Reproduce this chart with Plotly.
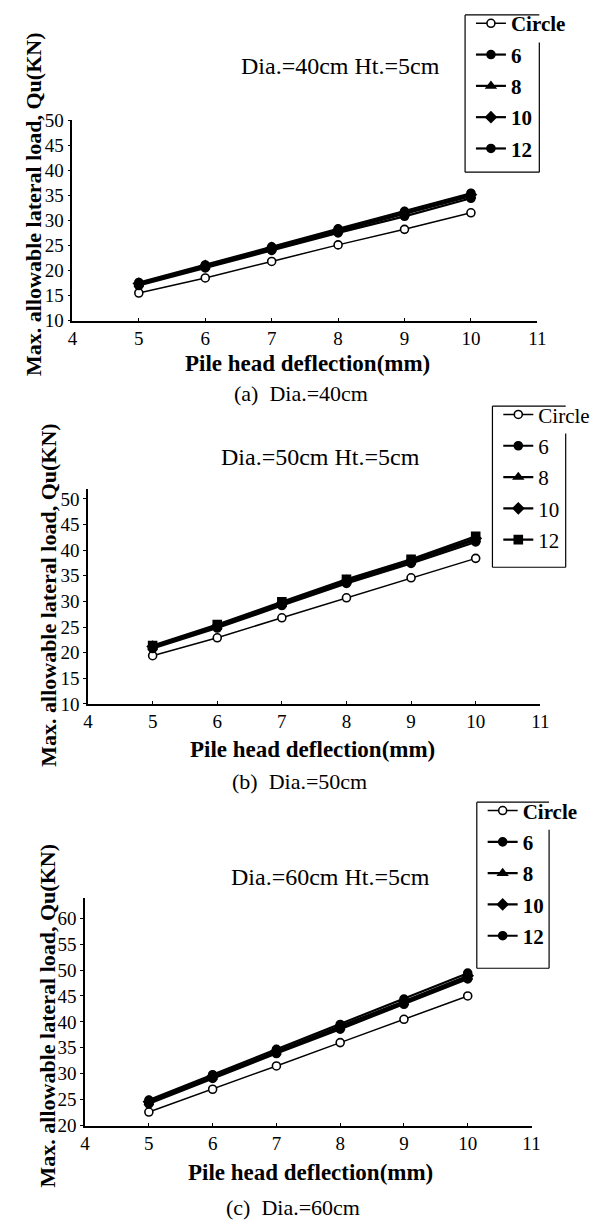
import plotly.graph_objects as go

# ---------------- data ----------------
deflection = [5, 6, 7, 8, 9, 10]
series_names = ["Circle", "6", "8", "10", "12"]
x_ticks = [4, 5, 6, 7, 8, 9, 10, 11]

# (a) Dia. = 40 cm
a_circle = [15.5, 18.5, 21.8, 25.1, 28.2, 31.5]
a_6 = [17.0, 20.5, 24.0, 27.5, 30.8, 34.4]
a_8 = [17.2, 20.7, 24.3, 27.8, 31.2, 34.8]
a_10 = [17.4, 20.9, 24.5, 28.0, 31.5, 35.1]
a_12 = [17.6, 21.1, 24.7, 28.3, 31.8, 35.4]

# (b) Dia. = 50 cm
b_circle = [19.4, 22.9, 26.8, 30.7, 34.6, 38.4]
b_6 = [20.8, 24.8, 29.2, 33.5, 37.4, 41.6]
b_8 = [21.0, 25.0, 29.4, 33.8, 37.7, 42.0]
b_10 = [21.2, 25.2, 29.6, 34.0, 37.9, 42.3]
b_12 = [21.4, 25.5, 29.9, 34.3, 38.2, 42.7]

# (c) Dia. = 60 cm
c_circle = [22.6, 27.0, 31.5, 36.0, 40.5, 45.0]
c_6 = [24.2, 29.1, 33.9, 38.6, 43.4, 48.3]
c_8 = [24.4, 29.3, 34.1, 38.9, 43.7, 48.6]
c_10 = [24.6, 29.5, 34.4, 39.2, 44.0, 48.9]
c_12 = [24.9, 29.8, 34.7, 39.5, 44.4, 49.4]

panel_titles = ["Dia.=40cm Ht.=5cm", "Dia.=50cm Ht.=5cm", "Dia.=60cm Ht.=5cm"]
panel_captions = ["(a)\u00a0\u00a0Dia.=40cm", "(b)\u00a0\u00a0Dia.=50cm", "(c)\u00a0\u00a0Dia.=60cm"]
x_title = "Pile head deflection(mm)"
y_title = "Max. allowable lateral load, Qu(KN)"

# ---------------- layout helpers ----------------
W, H = 604, 1224
FONT = "'Liberation Serif', 'Times New Roman', serif"


def fx(p):
    return p / W


def fy(p):
    return 1 - p / H


panels = [
    dict(data=[a_circle, a_6, a_8, a_10, a_12], yrange=[10, 50], ytick0=10,
         xpx=(69, 545), ypx=(112, 316),
         symbols=["circle", "circle", "triangle-up", "diamond", "circle"],
         title_pos=(343, 57), ytitle_pos=(29, 198), xtitle_pos=(310, 360), cap_pos=(303, 390),
         legend_box=(471, 5, 547, 165), legend_weight="bold"),
    dict(data=[b_circle, b_6, b_8, b_10, b_12], yrange=[10, 52], ytick0=10,
         xpx=(85, 548), ypx=(487, 706),
         symbols=["circle", "circle", "triangle-up", "diamond", "square"],
         title_pos=(323, 455), ytitle_pos=(45, 595), xtitle_pos=(315, 752), cap_pos=(301, 785),
         legend_box=(499, 403, 574, 567), legend_weight="normal"),
    dict(data=[c_circle, c_6, c_8, c_10, c_12], yrange=[20, 64], ytick0=20,
         xpx=(82, 539), ypx=(903, 1135),
         symbols=["circle", "circle", "triangle-up", "diamond", "circle"],
         title_pos=(333, 882), ytitle_pos=(43, 1024), xtitle_pos=(313, 1183), cap_pos=(295, 1218),
         legend_box=(483, 806, 557, 975), legend_weight="bold"),
]

fig = go.Figure()
annotations = []
shapes = []
layout_extra = {}

for i, p in enumerate(panels):
    sfx = "" if i == 0 else str(i + 1)
    xa, ya, lg = "x" + sfx, "y" + sfx, "legend" + sfx
    for j, (name, vals) in enumerate(zip(series_names, p["data"])):
        is_circle = j == 0
        fig.add_trace(go.Scatter(
            x=deflection, y=vals, name=name, mode="lines+markers",
            xaxis=xa, yaxis=ya, legend=lg, legendgroup=f"{lg}_{name}",
            line=dict(color="black", width=1.5 if is_circle else 2.2),
            marker=dict(symbol=p["symbols"][j], size=8,
                        color="white" if is_circle else "black",
                        line=dict(color="black", width=1.6)),
        ))

    layout_extra["xaxis" + sfx] = dict(
        domain=[fx(p["xpx"][0]), fx(p["xpx"][1])], anchor=ya, range=[4, 11],
        tickvals=x_ticks, ticks="inside", ticklen=3, tickcolor="black",
        showline=True, linecolor="black", linewidth=1.5, showgrid=False, zeroline=False,
        tickfont=dict(family=FONT, size=19, color="black"),
    )
    layout_extra["yaxis" + sfx] = dict(
        domain=[fy(p["ypx"][1]), fy(p["ypx"][0])], anchor=xa, range=p["yrange"],
        tick0=p["ytick0"], dtick=5, ticks="outside", ticklen=3, tickcolor="black",
        showline=True, linecolor="black", linewidth=1.5, showgrid=False, zeroline=False,
        tickfont=dict(family=FONT, size=19, color="black"),
    )
    lx0, ly0, lx1, ly1 = p["legend_box"]
    layout_extra[lg] = dict(
        x=fx(lx0 + 6), y=fy(ly0 - 12), xanchor="left", yanchor="top",
        bgcolor="rgba(0,0,0,0)", borderwidth=0, tracegroupgap=1,
        font=dict(family=FONT, size=21, color="black", weight=p["legend_weight"]),
        itemwidth=30,
    )
    # legend frame (right edge starts below the overflowing "Circle" label)
    for (x0, y0, x1, y1) in [(lx0, ly0, lx1, ly0), (lx0, ly0, lx0, ly1),
                             (lx0, ly1, lx1, ly1), (lx1, ly0 + 28, lx1, ly1)]:
        shapes.append(dict(type="line", xref="paper", yref="paper",
                           x0=fx(x0), y0=fy(y0), x1=fx(x1), y1=fy(y1),
                           line=dict(color="black", width=1.2)))

    annotations.append(dict(text=panel_titles[i], x=fx(p["title_pos"][0]), y=fy(p["title_pos"][1]),
                            xref="paper", yref="paper", showarrow=False, xanchor="center", yanchor="middle",
                            font=dict(family=FONT, size=24, color="black")))
    annotations.append(dict(text=y_title, x=fx(p["ytitle_pos"][0]), y=fy(p["ytitle_pos"][1]),
                            xref="paper", yref="paper", showarrow=False, textangle=-90,
                            xanchor="center", yanchor="middle",
                            font=dict(family=FONT, size=22, color="black", weight="bold")))
    annotations.append(dict(text=x_title, x=fx(p["xtitle_pos"][0]), y=fy(p["xtitle_pos"][1]),
                            xref="paper", yref="paper", showarrow=False, xanchor="center", yanchor="middle",
                            font=dict(family=FONT, size=23, color="black", weight="bold")))
    annotations.append(dict(text=panel_captions[i], x=fx(p["cap_pos"][0]), y=fy(p["cap_pos"][1]),
                            xref="paper", yref="paper", showarrow=False, xanchor="center", yanchor="middle",
                            font=dict(family=FONT, size=22, color="black")))

fig.update_layout(
    width=W, height=H, margin=dict(l=0, r=0, t=0, b=0),
    paper_bgcolor="white", plot_bgcolor="white", showlegend=True,
    annotations=annotations, shapes=shapes, **layout_extra,
)

fig.write_html("out.html")
